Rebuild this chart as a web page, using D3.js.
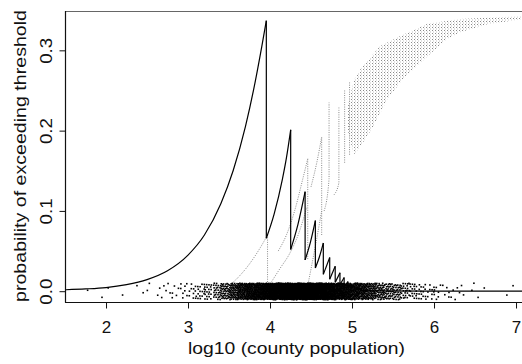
<!DOCTYPE html>
<html><head><meta charset="utf-8">
<script src="https://cdn.jsdelivr.net/npm/d3@7"></script>
<style>body{margin:0;background:#fff}svg{display:block}text{font-family:"Liberation Sans",Arial,Helvetica,sans-serif;fill:#111}</style>
</head><body><svg id="c" width="522" height="364"></svg>
<script>
// ---- data ----
const xTicks = [2, 3, 4, 5, 6, 7];
const yTicks = [0, 0.1, 0.2, 0.3];
const yTickLabels = ["0.0", "0.1", "0.2", "0.3"];
const xTitle = "log10 (county population)";
const yTitle = "probability of exceeding threshold";

// solid sawtooth curve [log10 pop, probability]; repeated x = vertical drop
const blackCurve = [
  [1.512,0.0018],[1.75,0.0028],[2.0,0.0045],[2.25,0.0082],[2.5,0.0145],[2.75,0.0255],
  [3.0,0.045],[3.2,0.070],[3.4,0.109],[3.55,0.150],[3.7,0.205],[3.8,0.251],[3.9,0.305],[3.955,0.337],
  [3.955,0.066],[4.05,0.096],[4.15,0.139],[4.2,0.166],[4.252,0.201],
  [4.252,0.052],[4.34,0.083],[4.428,0.124],
  [4.428,0.039],[4.49,0.06],[4.553,0.088],
  [4.553,0.029],[4.6,0.042],[4.65,0.06],
  [4.65,0.021],[4.728,0.042],
  [4.728,0.015],[4.795,0.031],
  [4.795,0.011],[4.853,0.023],
  [4.853,0.008],[4.904,0.017],
  [4.904,0.0055],[4.95,0.012],
  [4.95,0.004],[4.991,0.009],
  [4.991,0.003],[5.029,0.0065],
  [5.029,0.002],[5.064,0.0045],
  [5.064,0.0015],[5.097,0.003],
  [5.097,0.001],[5.2,0.0004],[7.1,0]
];

// dotted grey curves and jumps
const grayCurves = [
  [[3.42,0.0],[3.6,0.016],[3.75,0.034],[3.88,0.054],[3.97,0.07]],
  [[3.97,0.0],[3.97,0.07]],
  [[4.02,0.012],[4.12,0.028],[4.24,0.047],[4.35,0.072],[4.45,0.105]],
  [[4.1,0.05],[4.2,0.07],[4.3,0.1],[4.4,0.14],[4.46,0.165]],
  [[4.46,0.04],[4.46,0.165]],
  [[4.47,0.012],[4.56,0.06],[4.63,0.1]],
  [[4.5,0.13],[4.57,0.16],[4.63,0.192]],
  [[4.63,0.07],[4.63,0.192]],
  [[4.66,0.1],[4.72,0.14],[4.72,0.235]],
  [[4.78,0.12],[4.84,0.135],[4.84,0.23]],
  [[4.91,0.16],[4.91,0.25]],
  [[4.97,0.17],[4.97,0.26]]
];

// grey band envelopes
const bandUpper = [[4.95,0.23],[5.02,0.262],[5.1,0.276],[5.34,0.305],[5.59,0.318],[5.92,0.333],[6.32,0.339],[6.72,0.341],[7.1,0.3425]];
const bandLower = [[4.95,0.2],[5.02,0.17],[5.1,0.18],[5.26,0.205],[5.43,0.239],[5.62,0.264],[5.92,0.2925],[6.16,0.314],[6.32,0.3225],[6.65,0.3325],[7.1,0.339]];

// counties: histogram of log10 population (bin starts, width 0.1)
const binStarts = [1.7,1.8,1.9,2.0,2.1,2.2,2.3,2.4,2.5,2.6,2.7,2.8,2.9,3.0,3.1,3.2,3.3,3.4,3.5,3.6,3.7,3.8,3.9,
  4.0,4.1,4.2,4.3,4.4,4.5,4.6,4.7,4.8,4.9,5.0,5.1,5.2,5.3,5.4,5.5,5.6,5.7,5.8,5.9,6.0,6.1,6.2,6.3,6.4,6.5,6.6,6.7,6.8,6.9];
const binCounts = [1,0,1,1,0,1,1,1,2,3,4,5,8,10,15,20,28,45,65,90,115,135,160,
  190,215,235,245,240,225,200,170,145,120,100,80,65,50,40,32,25,18,14,10,7,5,4,3,2,1,1,0,1,1];
const binWidth = 0.1;
const dotBand = [-0.0105, 0.0100];

// ---- drawing ----
const svg = d3.select("#c");
const L = 66, T = 11, B = 302, R = 522;
const FONT = '"Liberation Sans",Arial,Helvetica,sans-serif';
const x = d3.scaleLinear().domain([1.512, 7.1]).range([L, L + (7.1 - 1.512) * 82]);
const y = d3.scaleLinear().domain([-0.01345, 0.349]).range([B, T]);

const defs = svg.append("defs");
defs.append("clipPath").attr("id", "clip").append("rect")
  .attr("x", L).attr("y", T).attr("width", R - L).attr("height", B - T);
const pat = defs.append("pattern").attr("id", "bandpat").attr("patternUnits", "userSpaceOnUse")
  .attr("width", 3).attr("height", 3);
pat.append("rect").attr("width", 1).attr("height", 1).attr("fill", "#8a8a8a");
pat.append("rect").attr("x", 1).attr("y", 1.5).attr("width", 1).attr("height", 1).attr("fill", "#c4c4c4");

const g = svg.append("g").attr("clip-path", "url(#clip)");
const line = d3.line().x(d => x(d[0])).y(d => y(d[1]));
const smooth = d3.line().x(d => x(d[0])).y(d => y(d[1])).curve(d3.curveMonotoneX);

// grey band
g.append("path")
  .attr("d", line(bandUpper.concat(bandLower.slice().reverse())) + "Z")
  .attr("fill", "url(#bandpat)").attr("stroke", "none");

// grey dotted curves
grayCurves.forEach(c => {
  g.append("path").attr("d", (c[0][0] === c[c.length - 1][0] || c.length < 3) ? line(c) : smooth(c))
    .attr("fill", "none")
    .attr("stroke", "#8c8c8c").attr("stroke-width", 1).attr("stroke-dasharray", "1 1.3");
});

// county dots (deterministic jitter layout)
const dots = [];
let k = 0;
binStarts.forEach((b, i) => {
  for (let j = 0; j < binCounts[i]; j++) {
    k++;
    const u = (k * 0.7548776662) % 1, v = (k * 0.5698402910) % 1;
    dots.push([b + u * binWidth, dotBand[0] + v * (dotBand[1] - dotBand[0])]);
  }
});
g.append("g").selectAll("rect").data(dots).join("rect")
  .attr("x", d => x(d[0]) - 0.8).attr("y", d => y(d[1]) - 0.8)
  .attr("width", 1.6).attr("height", 1.6).attr("fill", "#000");

// black sawtooth: split at vertical drops; smooth rising parts
const segs = [];
let cur = [blackCurve[0]];
for (let i = 1; i < blackCurve.length; i++) {
  if (blackCurve[i][0] === blackCurve[i - 1][0]) { segs.push(cur); cur = [blackCurve[i]]; }
  else cur.push(blackCurve[i]);
}
segs.push(cur);
const bk = g.append("g").attr("fill", "none").attr("stroke", "#000").attr("stroke-width", 1.2);
segs.forEach((s, i) => {
  bk.append("path").attr("d", smooth(s));
  if (i > 0) bk.append("path").attr("d", line([segs[i - 1][segs[i - 1].length - 1], s[0]]));
});

// frame
svg.append("line").attr("x1", L).attr("x2", R).attr("y1", T + 0.5).attr("y2", T + 0.5)
  .attr("stroke", "#666").attr("stroke-width", 1);
svg.append("line").attr("x1", L - 0.5).attr("x2", L - 0.5).attr("y1", T).attr("y2", B + 0.5)
  .attr("stroke", "#111").attr("stroke-width", 1.2);
svg.append("line").attr("x1", L - 1).attr("x2", R).attr("y1", B + 0.5).attr("y2", B + 0.5)
  .attr("stroke", "#111").attr("stroke-width", 1.2);

// x axis
const xa = svg.append("g").attr("transform", `translate(0,${B + 0.5})`)
  .call(d3.axisBottom(x).tickValues(xTicks).tickSize(6).tickPadding(12).tickFormat(d3.format("d")));
xa.select(".domain").remove();
xa.selectAll("line").attr("stroke", "#111");
xa.selectAll("text").attr("font-size", 17).attr("fill", "#111").style("font-family", FONT);

// y axis
const ya = svg.append("g").attr("transform", `translate(${L - 0.5},0)`)
  .call(d3.axisLeft(y).tickValues(yTicks).tickSize(6).tickFormat((d, i) => yTickLabels[i]));
ya.select(".domain").remove();
ya.selectAll("line").attr("stroke", "#111");
ya.selectAll("text").remove();
ya.selectAll(".tick").append("text")
  .attr("transform", "translate(-13.5,0) rotate(-90)")
  .attr("text-anchor", "middle").attr("font-size", 17).attr("fill", "#111")
  .attr("textLength", 26).attr("lengthAdjust", "spacingAndGlyphs")
  .style("font-family", FONT)
  .text((d, i) => yTickLabels[i]);

// titles
svg.append("text").attr("x", 296.5).attr("y", 354)
  .attr("text-anchor", "middle").attr("font-size", 17)
  .attr("textLength", 217).attr("lengthAdjust", "spacingAndGlyphs").text(xTitle);
svg.append("text").attr("transform", `translate(25.5,156) rotate(-90)`)
  .attr("text-anchor", "middle").attr("font-size", 17)
  .attr("textLength", 292).attr("lengthAdjust", "spacingAndGlyphs").text(yTitle);
</script>
</body></html>
